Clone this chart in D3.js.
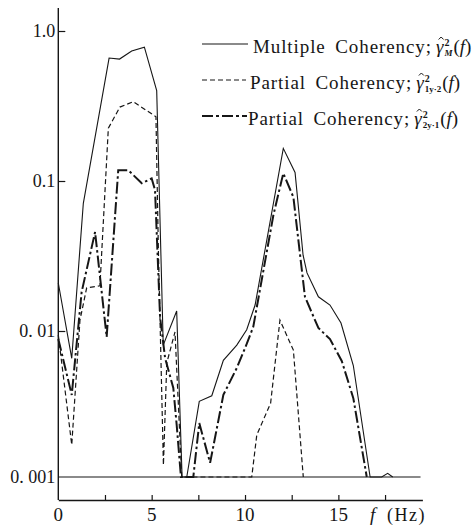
<!DOCTYPE html>
<html>
<head>
<meta charset="utf-8">
<script src="https://cdn.jsdelivr.net/npm/d3@7"></script>
<style>
  html, body { margin: 0; padding: 0; background: #fff; }
  svg { display: block; }
  text { font-family: "Liberation Serif", "Times New Roman", serif; fill: #161616; }
</style>
</head>
<body>
<svg id="chart" width="472" height="530"></svg>
<script>
// Coherency estimates against frequency (Hz); values at or below 0.001 sit on the floor line.
const freqMultiple = [0, 0.72, 1.34, 2.72, 3.28, 3.93, 4.61, 5.27, 5.62, 6.34, 6.63, 6.88, 7.55, 8.22, 8.84, 9.56, 10.09, 10.54, 12.05, 12.68, 13.11, 13.32, 13.93, 14.55, 15.14, 15.80, 16.70, 17.32, 17.64, 17.91];
const multipleCoherency = [0.0209, 0.0065, 0.071, 0.66, 0.65, 0.735, 0.78, 0.40, 0.0080, 0.0136, 0.001, 0.001, 0.0033, 0.0036, 0.0063, 0.0080, 0.0102, 0.0149, 0.165, 0.114, 0.032, 0.0244, 0.0169, 0.0149, 0.0113, 0.0058, 0.001, 0.001, 0.00106, 0.001];

const freqPartial1 = [0, 0.72, 1.16, 1.52, 2.23, 2.68, 3.30, 4.02, 5.23, 5.36, 5.63, 5.81, 6.25, 6.61, 10.36, 10.63, 11.37, 11.87, 12.59, 13.12];
const partialCoherency1y2 = [0.0094, 0.00166, 0.0118, 0.0194, 0.020, 0.225, 0.311, 0.338, 0.268, 0.0347, 0.00121, 0.00604, 0.00985, 0.001, 0.001, 0.00194, 0.0032, 0.0118, 0.0074, 0.001];

const freqPartial2 = [0, 0.72, 1.25, 1.97, 2.59, 3.21, 3.75, 4.47, 5.00, 5.18, 5.45, 5.72, 6.16, 6.34, 6.57, 7.23, 7.55, 8.13, 8.84, 9.56, 10.09, 10.44, 11.52, 12.05, 12.59, 13.21, 13.93, 14.55, 15.18, 15.80, 16.52];
const partialCoherency2y1 = [0.0088, 0.00365, 0.0182, 0.0457, 0.0091, 0.118, 0.118, 0.0966, 0.104, 0.0871, 0.0124, 0.00653, 0.00407, 0.00227, 0.001, 0.001, 0.00234, 0.00125, 0.00365, 0.00558, 0.00815, 0.01064, 0.0593, 0.1125, 0.0781, 0.0169, 0.01047, 0.0088, 0.00624, 0.00347, 0.001];

const floorLevel = 0.001;
const floorEnd = 19.4;
const yTickValues = [1, 0.1, 0.01, 0.001];
const yTickLabels = ["1.0", "0.1", "0. 01", "0. 001"];
const xTickValues = [2.5, 5, 7.5, 10, 12.5, 15, 17.5];
const xLabelValues = [0, 5, 10, 15];
const legendLabels = ["Multiple Coherency;", "Partial Coherency;", "Partial Coherency;"];
const legendSubscripts = ["M", "1y·2", "2y·1"];

const svg = d3.select("#chart");
const ink = "#161616";

// Frequency axis and a log coherency axis (one decade per segment).
const x = d3.scaleLinear().domain([0, 19.5]).range([58.3, 422.4]);
const y = d3.scaleLog().domain([1, 0.1, 0.01, 0.001]).range([31, 181, 331, 477]);
const axisY = 500, axisTop = 8;

// Axis frame
svg.append("line").attr("x1", x(0)).attr("x2", x(0)).attr("y1", axisTop).attr("y2", axisY)
  .attr("stroke", ink).attr("stroke-width", 1.4);
const xAxis = d3.axisBottom(x).tickValues(xTickValues).tickSizeInner(-5).tickSizeOuter(0).tickFormat("");
const gx = svg.append("g").attr("transform", `translate(0,${axisY})`).call(xAxis);
gx.selectAll("path.domain").attr("stroke", ink).attr("stroke-width", 1.3);
gx.selectAll(".tick line").attr("stroke", ink).attr("stroke-width", 1.2);

const yAxis = d3.axisLeft(y).tickValues(yTickValues.slice(0, 3)).tickSizeInner(-7).tickSizeOuter(0).tickFormat("");
const gy = svg.append("g").attr("transform", `translate(${x(0)},0)`).call(yAxis);
gy.select("path.domain").remove();
gy.selectAll(".tick line").attr("stroke", ink).attr("stroke-width", 1.2);

// Tick labels
svg.append("g").selectAll("text").data(yTickValues).join("text")
  .attr("x", x(0) - 3).attr("y", d => y(d)).attr("dy", "0.35em")
  .attr("text-anchor", "end").attr("font-size", 18)
  .text((d, i) => yTickLabels[i]);
svg.append("g").selectAll("text").data(xLabelValues).join("text")
  .attr("x", d => x(d)).attr("y", 521)
  .attr("text-anchor", "middle").attr("font-size", 19)
  .text(d => d);
svg.append("text").attr("x", 370).attr("y", 521).attr("font-size", 19)
  .attr("font-style", "italic").text("f");
svg.append("text").attr("x", 387).attr("y", 521).attr("font-size", 18)
  .attr("letter-spacing", 1.5).text("(Hz)");

// Floor line at 0.001
svg.append("line").attr("x1", x(0)).attr("x2", x(floorEnd))
  .attr("y1", y(floorLevel)).attr("y2", y(floorLevel))
  .attr("stroke", ink).attr("stroke-width", 1.1);

const line = d3.line().x(d => x(d[0])).y(d => y(d[1]));
const series = [
  { f: freqMultiple, v: multipleCoherency, width: 1.1, dash: null },
  { f: freqPartial1, v: partialCoherency1y2, width: 1.2, dash: "5 3" },
  { f: freqPartial2, v: partialCoherency2y1, width: 2, dash: "12 3 2.5 3" }
];
series.forEach(s => {
  svg.append("path")
    .datum(s.f.map((f, i) => [f, s.v[i]]))
    .attr("d", line)
    .attr("fill", "none")
    .attr("stroke", ink)
    .attr("stroke-width", s.width)
    .attr("stroke-linejoin", "miter")
    .attr("stroke-dasharray", s.dash);
});

// Legend
const legendRows = [
  { y: 44, lx: 202, lx2: 248, tx: 253 },
  { y: 80, lx: 202, lx2: 246, tx: 250 },
  { y: 116, lx: 202, lx2: 247, tx: 248 }
];
legendRows.forEach((r, i) => {
  const s = series[i];
  svg.append("line").attr("x1", r.lx).attr("x2", r.lx2).attr("y1", r.y).attr("y2", r.y)
    .attr("stroke", ink).attr("stroke-width", s.width)
    .attr("stroke-dasharray", i === 2 ? "11 3 3 3" : s.dash);
  const base = r.y + 9;
  const t = svg.append("text").attr("x", r.tx).attr("y", base)
    .attr("font-size", 19).attr("letter-spacing", 0.9).attr("word-spacing", 4)
    .text(legendLabels[i]);
  let cx = r.tx + t.node().getComputedTextLength() + 4;
  // gamma with a hat accent, superscript 2 and subscript stacked to its right
  const g = svg.append("text").attr("x", cx).attr("y", base)
    .attr("font-size", 19).attr("font-style", "italic").text("γ");
  const gw = g.node().getComputedTextLength();
  const hx = cx + gw / 2 + 1.5;
  svg.append("path")
    .attr("d", `M${hx - 2.5},${base - 13.5}L${hx},${base - 16}L${hx + 2.5},${base - 13.5}`)
    .attr("fill", "none").attr("stroke", ink).attr("stroke-width", 1);
  cx += gw + 1;
  svg.append("text").attr("x", cx).attr("y", base - 7)
    .attr("font-size", 10).attr("font-weight", "bold").text("2");
  const sb = svg.append("text").attr("x", cx).attr("y", base + 3)
    .attr("font-size", 9).attr("font-weight", "bold").attr("font-style", i === 0 ? "italic" : "normal")
    .text(legendSubscripts[i]);
  cx += Math.max(7, sb.node().getComputedTextLength()) + 1;
  const p = svg.append("text").attr("x", cx).attr("y", base).attr("font-size", 19);
  p.append("tspan").text("(");
  p.append("tspan").attr("font-style", "italic").text("f");
  p.append("tspan").text(")");
});
</script>
</body>
</html>
